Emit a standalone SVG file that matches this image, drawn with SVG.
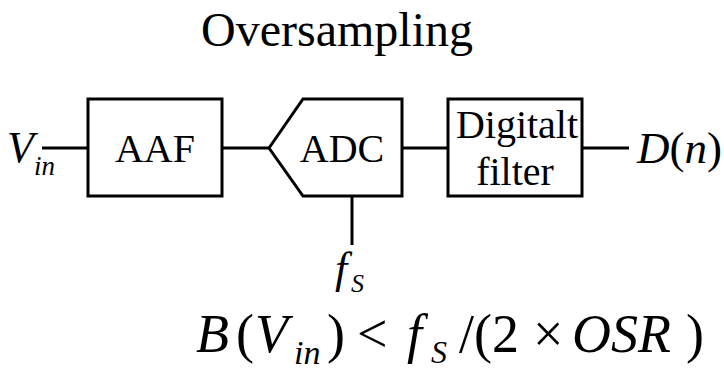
<svg xmlns="http://www.w3.org/2000/svg" width="724" height="371" viewBox="0 0 724 371">
  <style>
    .blk { fill: #ffffff; stroke: #000000; stroke-width: 3; stroke-linejoin: miter; }
    .wire { fill: none; stroke: #000000; stroke-width: 3; }
    text { fill: #000000; font-family: "Liberation Serif", Tinos, "Nimbus Roman", FreeSerif, "DejaVu Serif", "Times New Roman", serif; }
    .lbl { font-size: 40px; text-anchor: middle; }
    .it { font-style: italic; }
  </style>
  <rect width="724" height="371" fill="#ffffff"/>

  <!-- title -->
  <text id="title" x="337" y="46" font-size="48" text-anchor="middle">Oversampling</text>

  <!-- connectors -->
  <g id="connectors">
    <line class="wire" x1="42" y1="148" x2="88" y2="148"/>
    <line class="wire" x1="222" y1="148" x2="269" y2="148"/>
    <line class="wire" x1="402" y1="148" x2="448" y2="148"/>
    <line class="wire" x1="582" y1="148" x2="629" y2="148"/>
    <line class="wire" x1="352" y1="196" x2="352" y2="245"/>
  </g>

  <!-- input -->
  <g id="vin">
    <text x="7" y="162" font-size="44" class="it">V</text>
    <text x="34" y="175" font-size="27" class="it">in</text>
  </g>

  <!-- anti-aliasing filter -->
  <g id="aaf">
    <rect class="blk" x="88" y="99" width="134" height="97"/>
    <text class="lbl" x="155" y="162">AAF</text>
  </g>

  <!-- converter -->
  <g id="adc">
    <polygon class="blk" points="269,148 303,99 402,99 402,196 303,196"/>
    <text class="lbl" x="342" y="162">ADC</text>
  </g>

  <!-- digital filter -->
  <g id="digital-filter">
    <rect class="blk" x="448" y="99" width="134" height="97"/>
    <text class="lbl" x="517" y="138">Digitalt</text>
    <text class="lbl" x="515" y="185">filter</text>
  </g>

  <!-- output -->
  <g id="dout">
    <text x="637" y="163" font-size="45"><tspan class="it">D</tspan>(<tspan class="it">n</tspan>)</text>
  </g>

  <!-- sampling clock -->
  <g id="fs">
    <text x="335" y="283" font-size="44" class="it">f</text>
    <text x="351" y="292" font-size="26" class="it">S</text>
  </g>

  <!-- bandwidth condition -->
  <g id="condition" font-size="54">
    <text x="196" y="352" class="it">B</text>
    <text x="236" y="352">(</text>
    <text x="255" y="352" class="it">V</text>
    <text x="294" y="364" font-size="34" class="it">in</text>
    <text x="327" y="352">)</text>
    <text x="357" y="352">&lt;</text>
    <text x="407" y="352" class="it">f</text>
    <text x="431" y="363" font-size="32" class="it">S</text>
    <text x="459" y="352">/(2</text>
    <text x="533" y="352">×</text>
    <text x="572" y="352" class="it">OSR</text>
    <text x="686" y="352">)</text>
  </g>
</svg>
